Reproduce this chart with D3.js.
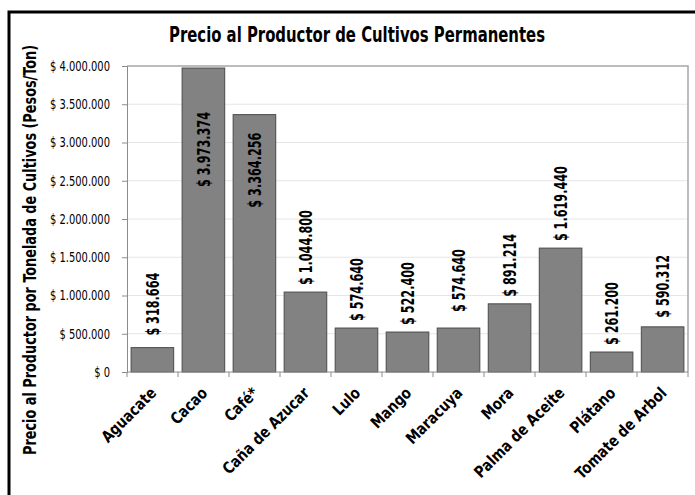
<!DOCTYPE html>
<html>
<head>
<meta charset="utf-8">
<script src="https://cdn.jsdelivr.net/npm/d3@7"></script>
<style>
  html, body { margin: 0; padding: 0; background: #fff; }
  svg { display: block; }
  text { font-family: "DejaVu Sans Condensed", "Liberation Sans", sans-serif; fill: #000; }
</style>
</head>
<body>
<svg id="chart" width="695" height="495"></svg>
<script>
// Precio al productor por tonelada, cultivos permanentes
const cultivos = ["Aguacate", "Cacao", "Café*", "Caña de Azucar", "Lulo", "Mango",
                  "Maracuya", "Mora", "Palma de Aceite", "Plátano", "Tomate de Arbol"];
const precios = [318664, 3973374, 3364256, 1044800, 574640, 522400,
                 574640, 891214, 1619440, 261200, 590312];
const yTicks = [0, 500000, 1000000, 1500000, 2000000, 2500000, 3000000, 3500000, 4000000];

const titulo = "Precio al Productor de Cultivos Permanentes";
const tituloEjeY = "Precio al Productor por Tonelada de Cultivos (Pesos/Ton)";

const svg = d3.select("#chart");
const W = 695, H = 495;
const plot = { left: 127, top: 66, right: 688, bottom: 372 };

// Spanish number format: thousands with "."
const es = d3.formatLocale({ decimal: ",", thousands: ".", grouping: [3], currency: ["$", ""] });
const fmt = es.format(",.0f");

// Narrow the text horizontally: every text in the selection keeps its height,
// and its length becomes `factor` times its natural length.
function squeeze(sel, factor) {
  sel.each(function () {
    const len = this.getComputedTextLength();
    d3.select(this).attr("textLength", len * factor).attr("lengthAdjust", "spacingAndGlyphs");
  });
}
// factor that brings `sample` (drawn with the given attrs) to `target` pixels
function factorFor(sample, size, weight, target) {
  const t = svg.append("text").attr("font-size", size).attr("font-weight", weight).text(sample);
  const f = target / t.node().getComputedTextLength();
  t.remove();
  return f;
}

// outer chart frame
svg.append("rect")
  .attr("x", 9).attr("y", 12)
  .attr("width", W + 20).attr("height", H + 20)
  .attr("fill", "#fff").attr("stroke", "#000").attr("stroke-width", 3);

const x = d3.scaleBand().domain(cultivos).range([plot.left, plot.right]).paddingInner(0.165).paddingOuter(0.08);
const y = d3.scaleLinear().domain([0, 4000000]).range([plot.bottom, plot.top]);

// gridlines
svg.append("g").selectAll("line").data(yTicks.slice(1, -1)).join("line")
  .attr("x1", plot.left).attr("x2", plot.right)
  .attr("y1", d => y(d)).attr("y2", d => y(d))
  .attr("stroke", "#e6e6e6").attr("stroke-width", 1);

// plot frame (top & right)
svg.append("path")
  .attr("d", `M${plot.left},${plot.top}H${plot.right}V${plot.bottom}`)
  .attr("fill", "none").attr("stroke", "#a6a6a6").attr("stroke-width", 1.5);

// bars
svg.append("g").selectAll("rect").data(cultivos).join("rect")
  .attr("x", d => x(d)).attr("width", x.bandwidth())
  .attr("y", (d, i) => y(precios[i]))
  .attr("height", (d, i) => y(0) - y(precios[i]))
  .attr("fill", "#828282").attr("stroke", "#4a4a4a").attr("stroke-width", 1);

// y axis
const yAxis = d3.axisLeft(y).tickValues(yTicks).tickSize(5).tickPadding(12)
  .tickFormat(d => d === 0 ? "$ 0" : "$ " + fmt(d));
const gy = svg.append("g").attr("transform", `translate(${plot.left},0)`).call(yAxis);
gy.select(".domain").attr("stroke", "#8c8c8c");
gy.selectAll(".tick line").attr("stroke", "#8c8c8c");
gy.selectAll(".tick text").attr("font-size", 14).attr("font-family", "DejaVu Sans Condensed, sans-serif");
squeeze(gy.selectAll(".tick text"), factorFor("$ 4.000.000", 14, "normal", 60));

// x axis: baseline and ticks at category boundaries
const step = (plot.right - plot.left) / cultivos.length;
svg.append("line").attr("x1", plot.left).attr("x2", plot.right)
  .attr("y1", plot.bottom).attr("y2", plot.bottom)
  .attr("stroke", "#8c8c8c").attr("stroke-width", 1);
svg.append("g").selectAll("line").data(d3.range(cultivos.length + 1)).join("line")
  .attr("x1", i => plot.left + i * step).attr("x2", i => plot.left + i * step)
  .attr("y1", plot.bottom).attr("y2", plot.bottom + 5)
  .attr("stroke", "#8c8c8c");

// category labels, rotated 45°
const cat = svg.append("g").selectAll("text").data(cultivos).join("text")
  .attr("transform", d => `translate(${x(d) + x.bandwidth() / 2 + 5},${plot.bottom + 22}) rotate(-45)`)
  .attr("text-anchor", "end")
  .attr("font-size", 16).attr("font-weight", "bold")
  .text(d => d);
squeeze(cat, factorFor("Aguacate", 16, "bold", 70));

// value labels (inside the tallest bars, above the rest)
const dentro = { "Cacao": 44, "Café*": 18 };
const separacion = { "Aguacate": 12, "Maracuya": 16, "Tomate de Arbol": 9 };
const etiquetas = svg.append("g").selectAll("text").data(cultivos).join("text")
  .attr("transform", (d, i) => {
    const cx = x(d) + x.bandwidth() / 2;
    const top = y(precios[i]);
    return d in dentro
      ? `translate(${cx},${top + dentro[d]}) rotate(-90)`
      : `translate(${cx},${top - (separacion[d] || 7)}) rotate(-90)`;
  })
  .attr("text-anchor", d => d in dentro ? "end" : "start")
  .attr("dy", "0.36em")
  .attr("font-size", 18).attr("font-weight", "bold")
  .text((d, i) => "$ " + fmt(precios[i]));
squeeze(etiquetas, factorFor("$ 3.973.374", 18, "bold", 75));

// title
const tt = svg.append("text").attr("x", 357).attr("y", 42)
  .attr("text-anchor", "middle").attr("font-size", 21).attr("font-weight", "bold")
  .text(titulo);
squeeze(tt, factorFor(titulo, 21, "bold", 376));

// y axis title
const ty = svg.append("text")
  .attr("transform", "translate(30,250) rotate(-90)")
  .attr("text-anchor", "middle").attr("dy", "0.36em")
  .attr("font-size", 18).attr("font-weight", "bold")
  .text(tituloEjeY);
squeeze(ty, factorFor(tituloEjeY, 18, "bold", 410));
</script>
</body>
</html>
